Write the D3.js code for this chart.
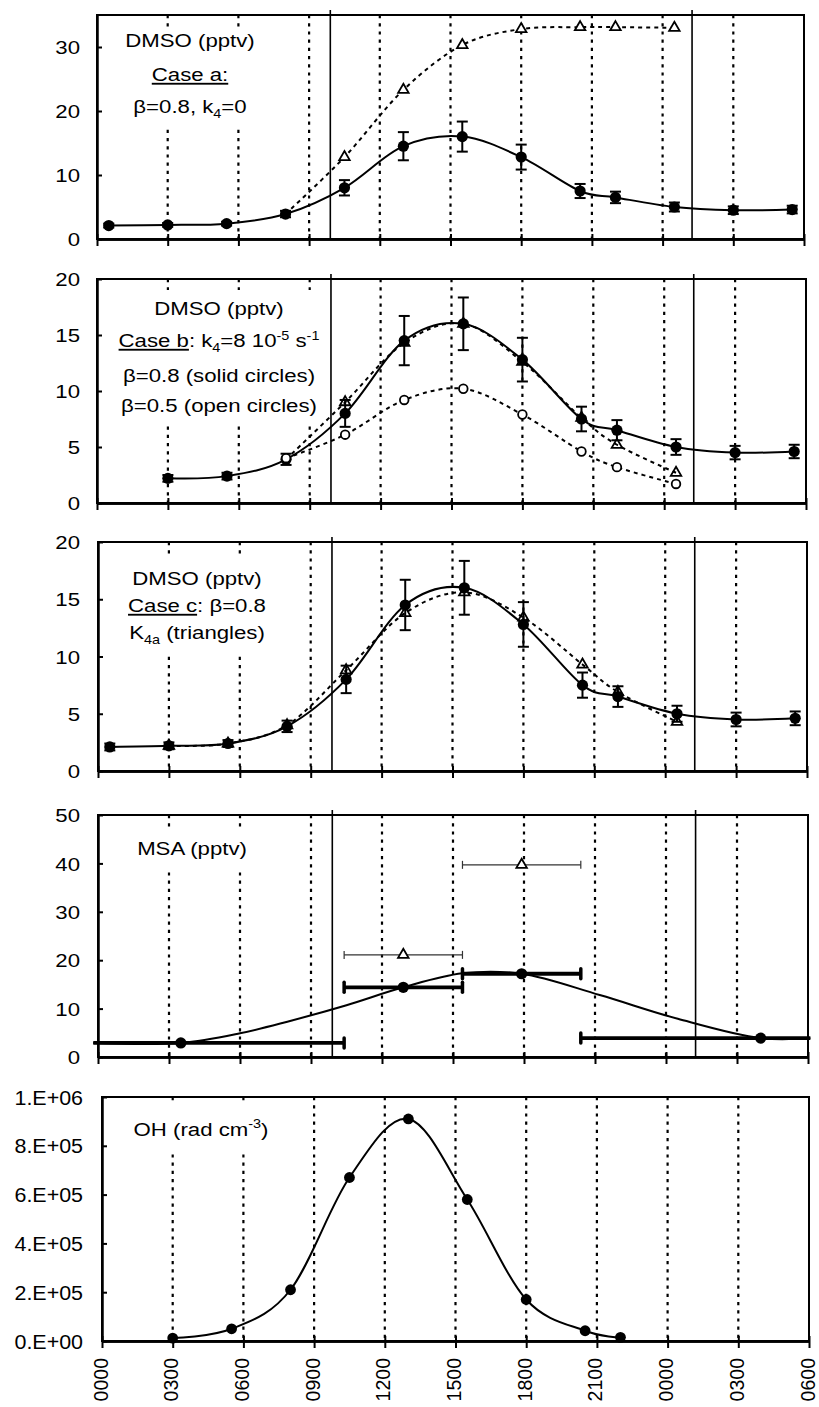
<!DOCTYPE html>
<html><head><meta charset="utf-8">
<script src="https://cdn.jsdelivr.net/npm/d3@7"></script>
<style>body{margin:0;background:#fff}svg{display:block}</style>
</head><body>
<svg id="c" width="819" height="1407"></svg>
<script>
// ---------------- data ----------------
const hourTicks = [0, 3, 6, 9, 12, 15, 18, 21, 24, 27, 30];
const hourLabels = ["0000","0300","0600","0900","1200","1500","1800","2100","0000","0300","0600"];
const lightTimes = [9.9, 25.25];

const dmsoTicksA = [0, 10, 20, 30];
const dmsoTicksBC = [0, 5, 10, 15, 20];
const msaTicks = [0, 10, 20, 30, 40, 50];
const ohTicks = [0, 2e5, 4e5, 6e5, 8e5, 1e6];
const ohTickLabels = ["0.E+00","2.E+05","4.E+05","6.E+05","8.E+05","1.E+06"];

// observed DMSO (solid circles, with error bars)
const dmsoTimes = [0.5, 3, 5.5, 8, 10.5, 13, 15.5, 18, 20.5, 22, 24.5, 27, 29.5];
const dmsoObs   = [2.1, 2.2, 2.4, 3.9, 8.0, 14.5, 16.0, 12.8, 7.5, 6.5, 5.0, 4.5, 4.6];
const dmsoErr   = [0.3, 0.3, 0.3, 0.5, 1.2, 2.2, 2.35, 1.95, 1.1, 0.9, 0.7, 0.6, 0.6];

// Case a model (triangles, dotted)
const caseATimes  = [8, 10.5, 13, 15.5, 18, 20.5, 22, 24.5];
const caseAValues = [3.9, 12.8, 23.3, 30.3, 32.8, 33.1, 33.1, 33.0];

// Case b models
const caseBTimes     = [8, 10.5, 13, 15.5, 18, 20.5, 22, 24.5];
const caseB08Values  = [3.9, 9.0, 14.3, 16.0, 12.6, 7.6, 5.2, 2.7];   // triangles
const caseB05Values  = [4.0, 6.1, 9.2, 10.2, 7.9, 4.6, 3.2, 1.7];     // open circles

// Case c model (triangles)
const caseCTimes  = [3, 5.5, 8, 10.5, 13, 15.5, 18, 20.5, 22, 24.5];
const caseCValues = [2.2, 2.4, 4.0, 8.8, 13.8, 15.6, 13.4, 9.3, 6.9, 4.3];

// MSA observed (solid circles, horizontal bars = sampling interval)
const msaTimes  = [3.5, 12.9, 17.9, 28.0];
const msaValues = [2.9, 14.4, 17.2, 3.9];
const msaStart  = [-0.2, 10.4, 15.4, 20.4];
const msaEnd    = [10.4, 15.4, 20.4, 30.1];
// MSA open triangles
const msaTriTimes  = [12.9, 17.9];
const msaTriValues = [21.1, 39.7];
const msaTriStart  = [10.4, 15.4];
const msaTriEnd    = [15.4, 20.4];
// MSA curve
const msaCurveTimes  = [-0.2, 3.5, 6, 8, 10.5, 12.9, 15.4, 17.9, 21.2, 24.5, 28, 30.1];
const msaCurveValues = [2.9, 2.9, 4.9, 7.3, 10.7, 14.4, 17.3, 17.2, 12.8, 7.9, 3.9, 3.9];

// OH
const ohTimes  = [3, 5.5, 8, 10.5, 13, 15.5, 18, 20.5, 22];
const ohValues = [1.2e4, 5.0e4, 2.1e5, 6.7e5, 9.1e5, 5.8e5, 1.7e5, 4.2e4, 1.5e4];

// ---------------- drawing ----------------
const FONT = "'Liberation Sans', Arial, Helvetica, sans-serif";
const svg = d3.select("#c").attr("font-family", FONT);

function rich(g, x, yb, parts, size, sx) {
  const t = g.append("text").attr("transform", `translate(${x},${yb}) scale(${sx},1)`)
    .attr("text-anchor", "middle").attr("font-size", size).attr("fill", "#000");
  let shift = 0;
  parts.forEach(p => {
    const s = p.s || 0;
    const ts = t.append("tspan").text(p.t).attr("font-size", s ? size * 0.65 : size);
    const target = s * size;
    if (target !== shift) { ts.attr("dy", target - shift); shift = target; }
    if (p.u) ts.attr("text-decoration", "underline");
  });
}

function panel(cfg) {
  const g = svg.append("g");
  const x = d3.scaleLinear().domain([0, 30]).range([cfg.l, cfg.r]);
  const y = d3.scaleLinear().domain([0, cfg.ymax]).range([cfg.b, cfg.t]);
  // dotted verticals
  g.selectAll("line.grid").data(hourTicks.slice(1, -1)).join("line")
    .attr("x1", d => x(d)).attr("x2", d => x(d)).attr("y1", cfg.t).attr("y2", cfg.b)
    .attr("stroke", "#000").attr("stroke-width", 2.2).attr("stroke-dasharray", "3.2,5");
  // annotation box
  const bx = cfg.box;
  g.append("rect").attr("x", bx[0]).attr("y", bx[1]).attr("width", bx[2] - bx[0]).attr("height", bx[3] - bx[1]).attr("fill", "#fff");
  cfg.text.forEach(line => rich(g, cfg.tx, line.y, line.parts, cfg.tsize, cfg.tsx));
  // light/dark solid lines
  if (cfg.light) {
    g.selectAll("line.light").data(lightTimes).join("line")
      .attr("x1", d => x(d)).attr("x2", d => x(d)).attr("y1", cfg.t - 5).attr("y2", cfg.b - 1)
      .attr("stroke", "#000").attr("stroke-width", 1.6);
  }
  // frame
  g.append("rect").attr("x", cfg.l).attr("y", cfg.t).attr("width", cfg.r - cfg.l).attr("height", cfg.b - cfg.t)
    .attr("fill", "none").attr("stroke", "#000").attr("stroke-width", 2);
  // x axes (ticks crossing)
  const xb = g.append("g").attr("transform", `translate(0,${cfg.b})`)
    .call(d3.axisBottom(x).tickValues(hourTicks).tickSize(7).tickSizeOuter(0)
      .tickFormat(cfg.xlabels ? (d, i) => hourLabels[i] : ""));
  const xt = g.append("g").attr("transform", `translate(0,${cfg.b})`)
    .call(d3.axisTop(x).tickValues(hourTicks).tickSize(5).tickSizeOuter(0).tickFormat(""));
  [xb, xt].forEach(a => {
    a.select(".domain").attr("stroke-width", 2.5);
    a.selectAll(".tick line").attr("stroke-width", 2);
  });
  if (cfg.xlabels) {
    xb.attr("font-family", FONT).attr("font-size", 19.5);
    xb.selectAll(".tick text").attr("transform", "rotate(-90)").attr("text-anchor", "end")
      .attr("x", -17).attr("y", 0).attr("dy", "0.26em").attr("fill", "#000");
  }
  // y axis
  const pad = cfg.l - cfg.labelRight;
  const ya = g.append("g").attr("transform", `translate(${cfg.l},0)`)
    .call(d3.axisLeft(y).tickValues(cfg.ticks).tickSize(-5).tickSizeOuter(0)
      .tickFormat((d, i) => cfg.tickLabels ? cfg.tickLabels[i] : d));
  ya.attr("font-family", FONT).attr("font-size", cfg.ysize);
  ya.select(".domain").attr("stroke-width", 2.5);
  ya.selectAll(".tick line").attr("stroke-width", 2);
  ya.selectAll(".tick text").attr("x", 0).attr("dy", "0.36em").attr("fill", "#000")
    .attr("transform", `translate(${-pad},0) scale(${cfg.ysx},1)`);
  return { g, x, y };
}

const smooth = d3.curveCatmullRom.alpha(0);
function drawLine(p, times, vals, opts) {
  const line = d3.line().x(d => p.x(d[0])).y(d => p.y(d[1])).curve(opts.curve || smooth);
  p.g.append("path").datum(d3.zip(times, vals)).attr("d", line)
    .attr("fill", "none").attr("stroke", "#000").attr("stroke-width", opts.w || 2)
    .attr("stroke-dasharray", opts.dash || null);
}
function drawObs(p, times, vals, errs) {
  const data = d3.zip(times, vals, errs);
  const eb = p.g.append("g").attr("stroke", "#000").attr("stroke-width", 2);
  data.forEach(([t, v, e]) => {
    const cx = p.x(t);
    eb.append("line").attr("x1", cx).attr("x2", cx).attr("y1", p.y(v - e)).attr("y2", p.y(v + e));
    eb.append("line").attr("x1", cx - 5.5).attr("x2", cx + 5.5).attr("y1", p.y(v - e)).attr("y2", p.y(v - e));
    eb.append("line").attr("x1", cx - 5.5).attr("x2", cx + 5.5).attr("y1", p.y(v + e)).attr("y2", p.y(v + e));
  });
  p.g.append("g").selectAll("circle").data(data).join("circle")
    .attr("cx", d => p.x(d[0])).attr("cy", d => p.y(d[1])).attr("r", 5.6).attr("fill", "#000");
}
function drawTri(p, times, vals, fill) {
  const sym = d3.symbol(d3.symbolTriangle, 48);
  p.g.append("g").selectAll("path").data(d3.zip(times, vals)).join("path")
    .attr("d", sym).attr("transform", d => `translate(${p.x(d[0])},${p.y(d[1])})`)
    .attr("fill", fill).attr("stroke", "#000").attr("stroke-width", 1.8);
}
function drawOpen(p, times, vals) {
  p.g.append("g").selectAll("circle").data(d3.zip(times, vals)).join("circle")
    .attr("cx", d => p.x(d[0])).attr("cy", d => p.y(d[1])).attr("r", 4.3)
    .attr("fill", "#fff").attr("stroke", "#000").attr("stroke-width", 1.8);
}

const TS = 18.5, TSX = 1.2;

// Panel 1
const p1 = panel({ l: 97, r: 804, t: 15, b: 239, ymax: 35, ticks: dmsoTicksA, light: true,
  labelRight: 80, ysize: 18.5, ysx: 1.2,
  box: [112, 30, 268, 127], tx: 190, tsize: TS, tsx: TSX,
  text: [
    { y: 47, parts: [{ t: "DMSO (pptv)" }] },
    { y: 81, parts: [{ t: "Case a:", u: true }] },
    { y: 113, parts: [{ t: "β=0.8, k" }, { t: "4", s: 0.28 }, { t: "=0" }] }
  ] });
drawLine(p1, caseATimes, caseAValues, { dash: "4,4" });
drawLine(p1, dmsoTimes, dmsoObs, {});
drawObs(p1, dmsoTimes, dmsoObs, dmsoErr);
drawTri(p1, caseATimes.slice(1), caseAValues.slice(1), "#fff");

// Panel 2
const p2 = panel({ l: 97, r: 806, t: 279, b: 503, ymax: 20, ticks: dmsoTicksBC, light: true,
  labelRight: 80, ysize: 18.5, ysx: 1.2,
  box: [112, 290, 324, 426], tx: 219, tsize: TS, tsx: TSX,
  text: [
    { y: 315, parts: [{ t: "DMSO (pptv)" }] },
    { y: 347, parts: [{ t: "Case b", u: true }, { t: ": k" }, { t: "4", s: 0.28 }, { t: "=8 10" }, { t: "-5", s: -0.4 }, { t: " s" }, { t: "-1", s: -0.4 }] },
    { y: 382, parts: [{ t: "β=0.8 (solid circles)" }] },
    { y: 412, parts: [{ t: "β=0.5 (open circles)" }] }
  ] });
drawLine(p2, caseBTimes, caseB08Values, { dash: "4,4" });
drawLine(p2, caseBTimes, caseB05Values, { dash: "4,4" });
drawLine(p2, dmsoTimes.slice(1), dmsoObs.slice(1), {});
drawObs(p2, dmsoTimes.slice(1), dmsoObs.slice(1), dmsoErr.slice(1));
drawTri(p2, caseBTimes.slice(1), caseB08Values.slice(1), "none");
drawOpen(p2, caseBTimes, caseB05Values);

// Panel 3
const p3 = panel({ l: 98, r: 807, t: 542, b: 771, ymax: 20, ticks: dmsoTicksBC, light: true,
  labelRight: 80, ysize: 18.5, ysx: 1.2,
  box: [120, 556, 275, 652], tx: 197, tsize: TS, tsx: TSX,
  text: [
    { y: 585, parts: [{ t: "DMSO (pptv)" }] },
    { y: 612, parts: [{ t: "Case c", u: true }, { t: ": β=0.8" }] },
    { y: 639, parts: [{ t: "K" }, { t: "4a", s: 0.28 }, { t: " (triangles)" }] }
  ] });
drawLine(p3, caseCTimes, caseCValues, { dash: "4,4" });
drawLine(p3, dmsoTimes, dmsoObs, {});
drawObs(p3, dmsoTimes, dmsoObs, dmsoErr);
drawTri(p3, caseCTimes, caseCValues, "none");

// Panel 4
const p4 = panel({ l: 98, r: 808, t: 815, b: 1057, ymax: 50, ticks: msaTicks, light: true,
  labelRight: 80, ysize: 18.5, ysx: 1.2,
  box: [128, 830, 258, 868], tx: 192, tsize: TS, tsx: TSX,
  text: [{ y: 855, parts: [{ t: "MSA (pptv)" }] }] });
drawLine(p4, msaCurveTimes, msaCurveValues, { curve: d3.curveCatmullRom.alpha(0.5) });
{
  const gb = p4.g.append("g").attr("stroke", "#000");
  d3.zip(msaTimes, msaValues, msaStart, msaEnd).forEach(([t, v, s, e]) => {
    const yy = p4.y(v);
    gb.append("line").attr("x1", p4.x(s)).attr("x2", p4.x(e)).attr("y1", yy).attr("y2", yy).attr("stroke-width", 3.8);
    [s, e].forEach(end => {
      if (end >= 0 && end <= 30) gb.append("line").attr("x1", p4.x(end)).attr("x2", p4.x(end))
        .attr("y1", yy - 5).attr("y2", yy + 5).attr("stroke-width", 3.5).attr("stroke-linecap", "round");
    });
  });
  const gt = p4.g.append("g").attr("stroke", "#333").attr("stroke-width", 1.2);
  d3.zip(msaTriTimes, msaTriValues, msaTriStart, msaTriEnd).forEach(([t, v, s, e]) => {
    const yy = p4.y(v);
    gt.append("line").attr("x1", p4.x(s)).attr("x2", p4.x(e)).attr("y1", yy).attr("y2", yy);
    [s, e].forEach(end => gt.append("line").attr("x1", p4.x(end)).attr("x2", p4.x(end)).attr("y1", yy - 4).attr("y2", yy + 4));
  });
  p4.g.append("g").selectAll("circle").data(d3.zip(msaTimes, msaValues)).join("circle")
    .attr("cx", d => p4.x(d[0])).attr("cy", d => p4.y(d[1])).attr("r", 5.6).attr("fill", "#000");
  drawTri(p4, msaTriTimes, msaTriValues, "#fff");
}

// Panel 5
const p5 = panel({ l: 102, r: 809, t: 1097, b: 1341, ymax: 1e6, ticks: ohTicks, tickLabels: ohTickLabels,
  light: false, xlabels: true, labelRight: 83, ysize: 19.5, ysx: 1.1,
  box: [125, 1103, 282, 1150], tx: 201, tsize: 19, tsx: 1.17,
  text: [{ y: 1136, parts: [{ t: "OH (rad cm" }, { t: "-3", s: -0.4 }, { t: ")" }] }] });
drawLine(p5, ohTimes, ohValues, {});
p5.g.append("g").selectAll("circle").data(d3.zip(ohTimes, ohValues)).join("circle")
  .attr("cx", d => p5.x(d[0])).attr("cy", d => p5.y(d[1])).attr("r", 5.4).attr("fill", "#000");
</script>
</body></html>
